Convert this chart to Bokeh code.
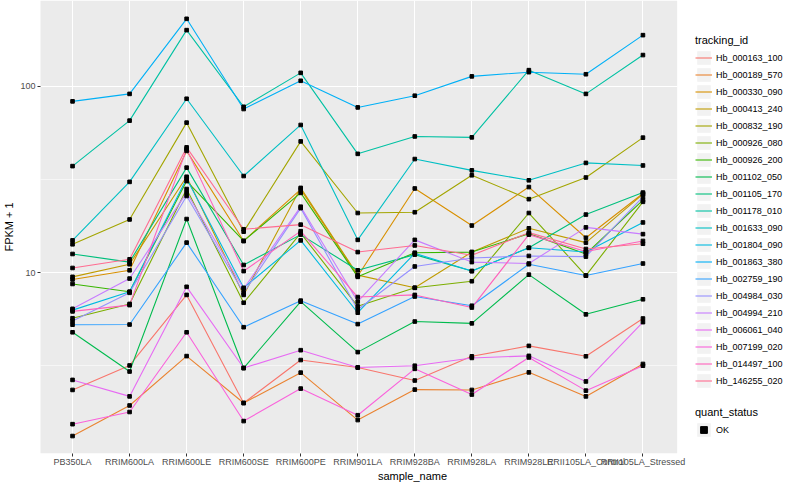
from bokeh.plotting import figure
from bokeh.models import (Range1d, FixedTicker, Legend, LegendItem,
                          CustomJSTickFormatter, BoxAnnotation)
from bokeh.embed import file_html
from bokeh.resources import INLINE

samples = ["PB350LA", "RRIM600LA", "RRIM600LE", "RRIM600SE", "RRIM600PE",
           "RRIM901LA", "RRIM928BA", "RRIM928LA", "RRIM928LE",
           "RRII105LA_Control", "RRII105LA_Stressed"]

tracking_ids = ["Hb_000163_100", "Hb_000189_570", "Hb_000330_090", "Hb_000413_240",
                "Hb_000832_190", "Hb_000926_080", "Hb_000926_200", "Hb_001102_050",
                "Hb_001105_170", "Hb_001178_010", "Hb_001633_090", "Hb_001804_090",
                "Hb_001863_380", "Hb_002759_190", "Hb_004984_030", "Hb_004994_210",
                "Hb_006061_040", "Hb_007199_020", "Hb_014497_100", "Hb_146255_020"]

hb_000163_100 = [2.35, 3.18, 7.6, 2.0, 3.40, 3.1, 2.64, 3.56, 4.05, 3.56, 5.68]
hb_000189_570 = [1.33, 1.94, 3.57, 2.0, 2.91, 1.62, 2.36, 2.35, 2.92, 2.17, 3.24]
hb_000330_090 = [9.2, 10.3, 45.0, 14.8, 28.0, 9.6, 28.3, 17.9, 28.8, 15.4, 26.6]
hb_000413_240 = [9.5, 11.1, 32.7, 7.6, 28.5, 9.7, 8.3, 12.9, 17.3, 14.5, 26.4]
hb_000832_190 = [14.2, 19.3, 63.8, 16.6, 50.6, 20.9, 21.1, 33.3, 24.8, 32.4, 53.0]
hb_000926_080 = [5.7, 6.8, 28.1, 6.9, 16.3, 6.6, 8.3, 9.0, 20.9, 9.65, 24.0]
hb_000926_200 = [8.7, 7.9, 31.0, 14.8, 26.8, 9.5, 12.8, 12.9, 16.2, 12.6, 24.5]
hb_001102_050 = [4.79, 2.95, 19.4, 3.08, 6.99, 3.75, 5.47, 5.35, 9.76, 5.98, 7.2]
hb_001105_170 = [12.6, 11.4, 36.6, 11.0, 16.0, 10.3, 12.5, 10.2, 13.6, 20.5, 26.9]
hb_001178_010 = [37.3, 65.4, 200.0, 77.6, 118.0, 43.4, 53.8, 53.2, 122.0, 91.0, 147.0]
hb_001633_090 = [14.9, 30.7, 85.7, 33.0, 62.0, 15.0, 40.7, 35.4, 31.3, 38.8, 37.6]
hb_001804_090 = [6.3, 7.9, 32.0, 8.3, 14.9, 6.1, 12.7, 10.2, 13.6, 12.9, 18.6]
hb_001863_380 = [83.0, 91.0, 230.0, 75.5, 107.0, 77.0, 89.0, 113.0, 119.0, 116.0, 188.0]
hb_002759_190 = [5.26, 5.27, 14.5, 5.1, 7.08, 5.3, 7.45, 6.65, 11.1, 9.65, 11.2]
hb_004984_030 = [5.5, 7.8, 25.8, 7.8, 22.2, 6.35, 10.8, 12.0, 12.3, 12.2, 25.5]
hb_004994_210 = [6.4, 9.3, 26.9, 8.2, 22.6, 7.0, 15.0, 11.4, 11.2, 17.5, 16.1]
hb_006061_040 = [2.66, 2.17, 8.4, 3.08, 3.84, 3.1, 3.17, 3.49, 3.58, 2.61, 5.43]
hb_007199_020 = [1.54, 1.79, 4.79, 1.6, 2.39, 1.72, 3.05, 2.22, 3.51, 2.33, 3.17]
hb_014497_100 = [6.2, 6.7, 46.0, 10.2, 16.7, 7.4, 7.6, 6.5, 16.0, 13.0, 14.8]
hb_146255_020 = [10.6, 11.8, 47.0, 17.1, 18.1, 12.9, 14.0, 12.4, 16.4, 13.4, 14.3]

series_values = [hb_000163_100, hb_000189_570, hb_000330_090, hb_000413_240,
                 hb_000832_190, hb_000926_080, hb_000926_200, hb_001102_050,
                 hb_001105_170, hb_001178_010, hb_001633_090, hb_001804_090,
                 hb_001863_380, hb_002759_190, hb_004984_030, hb_004994_210,
                 hb_006061_040, hb_007199_020, hb_014497_100, hb_146255_020]

quant_status = ["OK"]
y_ticks = [1, 10, 100, 1000]

palette = ["#F8766D", "#EA8331", "#D89000", "#C09B00", "#A3A500", "#7CAE00",
           "#39B600", "#00BB4E", "#00BF7D", "#00C1A3", "#00BFC4", "#00BAE0",
           "#00B0F6", "#35A2FF", "#9590FF", "#C77CFF", "#E76BF3", "#FA62DB",
           "#FF62BC", "#FF6C91"]

FONT = "Liberation Sans"
W, H = 784, 484
L, R, T, B = 34, 0, 0, 30

# sample positions along the discrete axis
xpos = list(range(len(samples)))
unit = 57.5                      # px per category
first_px = 74.3 - 8 - L          # first category centre, px from frame left
x_start = -first_px / unit
x_end = x_start + (W - L - R) / unit

p = figure(width=W, height=H,
           x_range=Range1d(x_start, x_end),
           y_axis_type="log", y_range=Range1d(1.072, 288.4),
           output_backend="svg", toolbar_location=None,
           min_border_left=L, min_border_right=R, min_border_top=T, min_border_bottom=B)

p.background_fill_color = "white"
p.border_fill_color = "white"
p.outline_line_color = None

# grey panel
panel = BoxAnnotation(left=-0.6, right=len(samples) - 0.4, fill_color="#EBEBEB",
                      fill_alpha=1.0, line_color=None, level="image")
p.add_layout(panel)

# axes / ticks
p.xaxis.ticker = FixedTicker(ticks=xpos)
p.xaxis.major_label_overrides = {i: s for i, s in zip(xpos, samples)}
p.yaxis.ticker = FixedTicker(ticks=y_ticks, minor_ticks=[0.3162, 3.162, 31.62, 316.2])
p.yaxis.formatter = CustomJSTickFormatter(code="return String(Math.round(tick));")

# grid
p.xgrid.grid_line_color = "white"
p.xgrid.grid_line_width = 1.1
p.ygrid.grid_line_color = "white"
p.ygrid.grid_line_width = 1.1
p.ygrid.minor_grid_line_color = "white"
p.ygrid.minor_grid_line_width = 0.55
p.ygrid.cross_bounds = (-0.6, len(samples) - 0.4)

for ax in (p.xaxis[0], p.yaxis[0]):
    ax.axis_line_color = None
    ax.major_tick_line_color = "#333333"
    ax.major_tick_out = 3
    ax.major_tick_in = 0
    ax.minor_tick_out = 0
    ax.minor_tick_in = 0
    ax.major_label_text_font = FONT
    ax.major_label_text_font_size = "9px"
    ax.major_label_text_color = "#4D4D4D"
    ax.major_label_standoff = 2
    ax.axis_label_text_font = FONT
    ax.axis_label_text_font_size = "11px"
    ax.axis_label_text_font_style = "normal"
    ax.axis_label_text_color = "black"
    ax.axis_label_standoff = 2

p.xaxis.axis_label = "sample_name"
p.yaxis.axis_label = "FPKM + 1"
p.xaxis.major_label_standoff = 0
p.xaxis.axis_label_standoff = 0

# lines
line_renderers = []
for vals, col in zip(series_values, palette):
    r = p.line(xpos, vals, line_color=col, line_width=1.1)
    line_renderers.append(r)

# points
pt_renderers = []
for vals in series_values:
    pr = p.scatter(xpos, vals, marker="square", size=3.6, color="black")
    pt_renderers.append(pr)

# grey key background: zero-sized in the plot, shown only as legend key box
key_bg = p.rect(x=xpos[:1], y=y_ticks[1:2], width=0, height=0,
                fill_color="#F2F2F2", line_color=None)

items1 = [LegendItem(label=tid, renderers=[key_bg, r]) for tid, r in zip(tracking_ids, line_renderers)]
items2 = [LegendItem(label=quant_status[0], renderers=[key_bg, pt_renderers[0]])]


def style(lg, title):
    lg.title = title
    lg.title_text_font = FONT
    lg.title_text_font_size = "11px"
    lg.title_text_font_style = "normal"
    lg.title_text_color = "black"
    lg.title_standoff = 3
    lg.label_text_font = FONT
    lg.label_text_font_size = "9px"
    lg.label_text_color = "black"
    lg.glyph_width = 17
    lg.glyph_height = 17
    lg.label_height = 17
    lg.spacing = 0
    lg.label_standoff = 4
    lg.padding = 0
    lg.margin = 0
    lg.border_line_color = None
    lg.background_fill_alpha = 0


leg1 = Legend(items=items1)
style(leg1, "tracking_id")
leg1.location = (689 - L, 64)
p.add_layout(leg1, "center")

leg2 = Legend(items=items2)
style(leg2, "quant_status")
leg2.location = (689 - L, 15)
p.add_layout(leg2, "center")

open("out.html", "w").write(file_html(p, INLINE))
